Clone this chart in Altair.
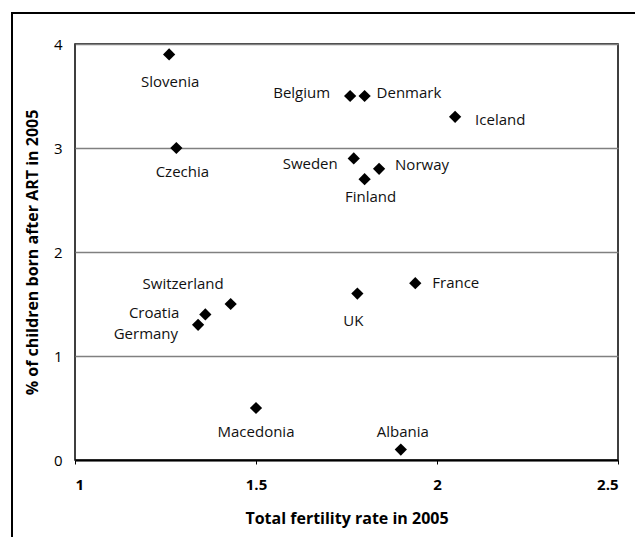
import altair as alt
import pandas as pd

countries = ["Slovenia", "Czechia", "Belgium", "Denmark", "Iceland", "Sweden",
             "Norway", "Finland", "Switzerland", "Croatia", "Germany",
             "Macedonia", "UK", "France", "Albania"]
tfr = [1.26, 1.28, 1.76, 1.80, 2.05, 1.77, 1.84, 1.80, 1.43, 1.36, 1.34,
       1.50, 1.78, 1.94, 1.90]
art = [3.9, 3.0, 3.5, 3.5, 3.3, 2.9, 2.8, 2.7, 1.5, 1.4, 1.3, 0.5, 1.6, 1.7, 0.1]

x_ticks = [1, 1.5, 2, 2.5]
y_ticks = [0, 1, 2, 3, 4]

df = pd.DataFrame({"country": countries, "tfr": tfr, "art": art})

FONT = "Open Sans"

# label placement (style): align, dx, dy
label_style = {
    "Slovenia": ("center", 1, 28),
    "Czechia": ("center", 6, 24),
    "Belgium": ("right", -20, -3),
    "Denmark": ("left", 12, -3),
    "Iceland": ("left", 20, 3),
    "Sweden": ("right", -16, 6),
    "Norway": ("left", 16, -4),
    "Finland": ("center", 6, 18),
    "Switzerland": ("right", -7, -20),
    "Croatia": ("right", -26, -1),
    "Germany": ("right", -20, 9),
    "Macedonia": ("center", 0, 24),
    "UK": ("center", -4, 27),
    "France": ("left", 17, 0),
    "Albania": ("center", 2, -18),
}

xenc = alt.X("tfr:Q", title="Total fertility rate in 2005",
             scale=alt.Scale(domain=[1, 2.5], nice=False, zero=False),
             axis=alt.Axis(values=x_ticks, format="~g", grid=False,
                           domainColor="black", domainWidth=2,
                           tickColor="black", tickSize=4, tickWidth=1,
                           labelFontWeight="bold", labelPadding=13,
                           titlePadding=18))
yenc = alt.Y("art:Q", title="% of children born after ART in 2005",
             scale=alt.Scale(domain=[0, 4], nice=False),
             axis=alt.Axis(values=y_ticks, format="d", grid=True,
                           gridColor="#808080", gridWidth=1.5,
                           domain=False, ticks=False, labelPadding=13,
                           titlePadding=13))

base = alt.Chart(df)

points = base.mark_point(shape="diamond", filled=True, color="black",
                         size=150, opacity=1).encode(x=xenc, y=yenc)

layers = [points]
for name, (align, dx, dy) in label_style.items():
    layers.append(
        base.transform_filter(alt.datum.country == name)
        .mark_text(font=FONT, fontSize=15, align=align, baseline="middle",
                   dx=dx, dy=dy, color="#111")
        .encode(x="tfr:Q", y="art:Q", text="country:N")
    )

frame = alt.Chart(pd.DataFrame({"k": [0]})).mark_rect(
    fill=None, stroke="black", strokeWidth=2
).encode(x=alt.value(-63), x2=alt.value(620), y=alt.value(-31), y2=alt.value(520))

chart = alt.layer(frame, *layers).properties(
    width=543, height=416,
    padding={"left": 67, "top": 36, "right": 17, "bottom": 77},
    autosize=alt.AutoSizeParams(type="none"),
).configure_view(
    stroke="black", strokeWidth=1.5
).configure_axis(
    labelFont=FONT, titleFont=FONT, labelFontSize=15, titleFontSize=16,
    labelColor="black", titleColor="black", titleFontWeight="bold"
)

chart.save("out.html", embed_options={"renderer": "svg", "actions": False})
